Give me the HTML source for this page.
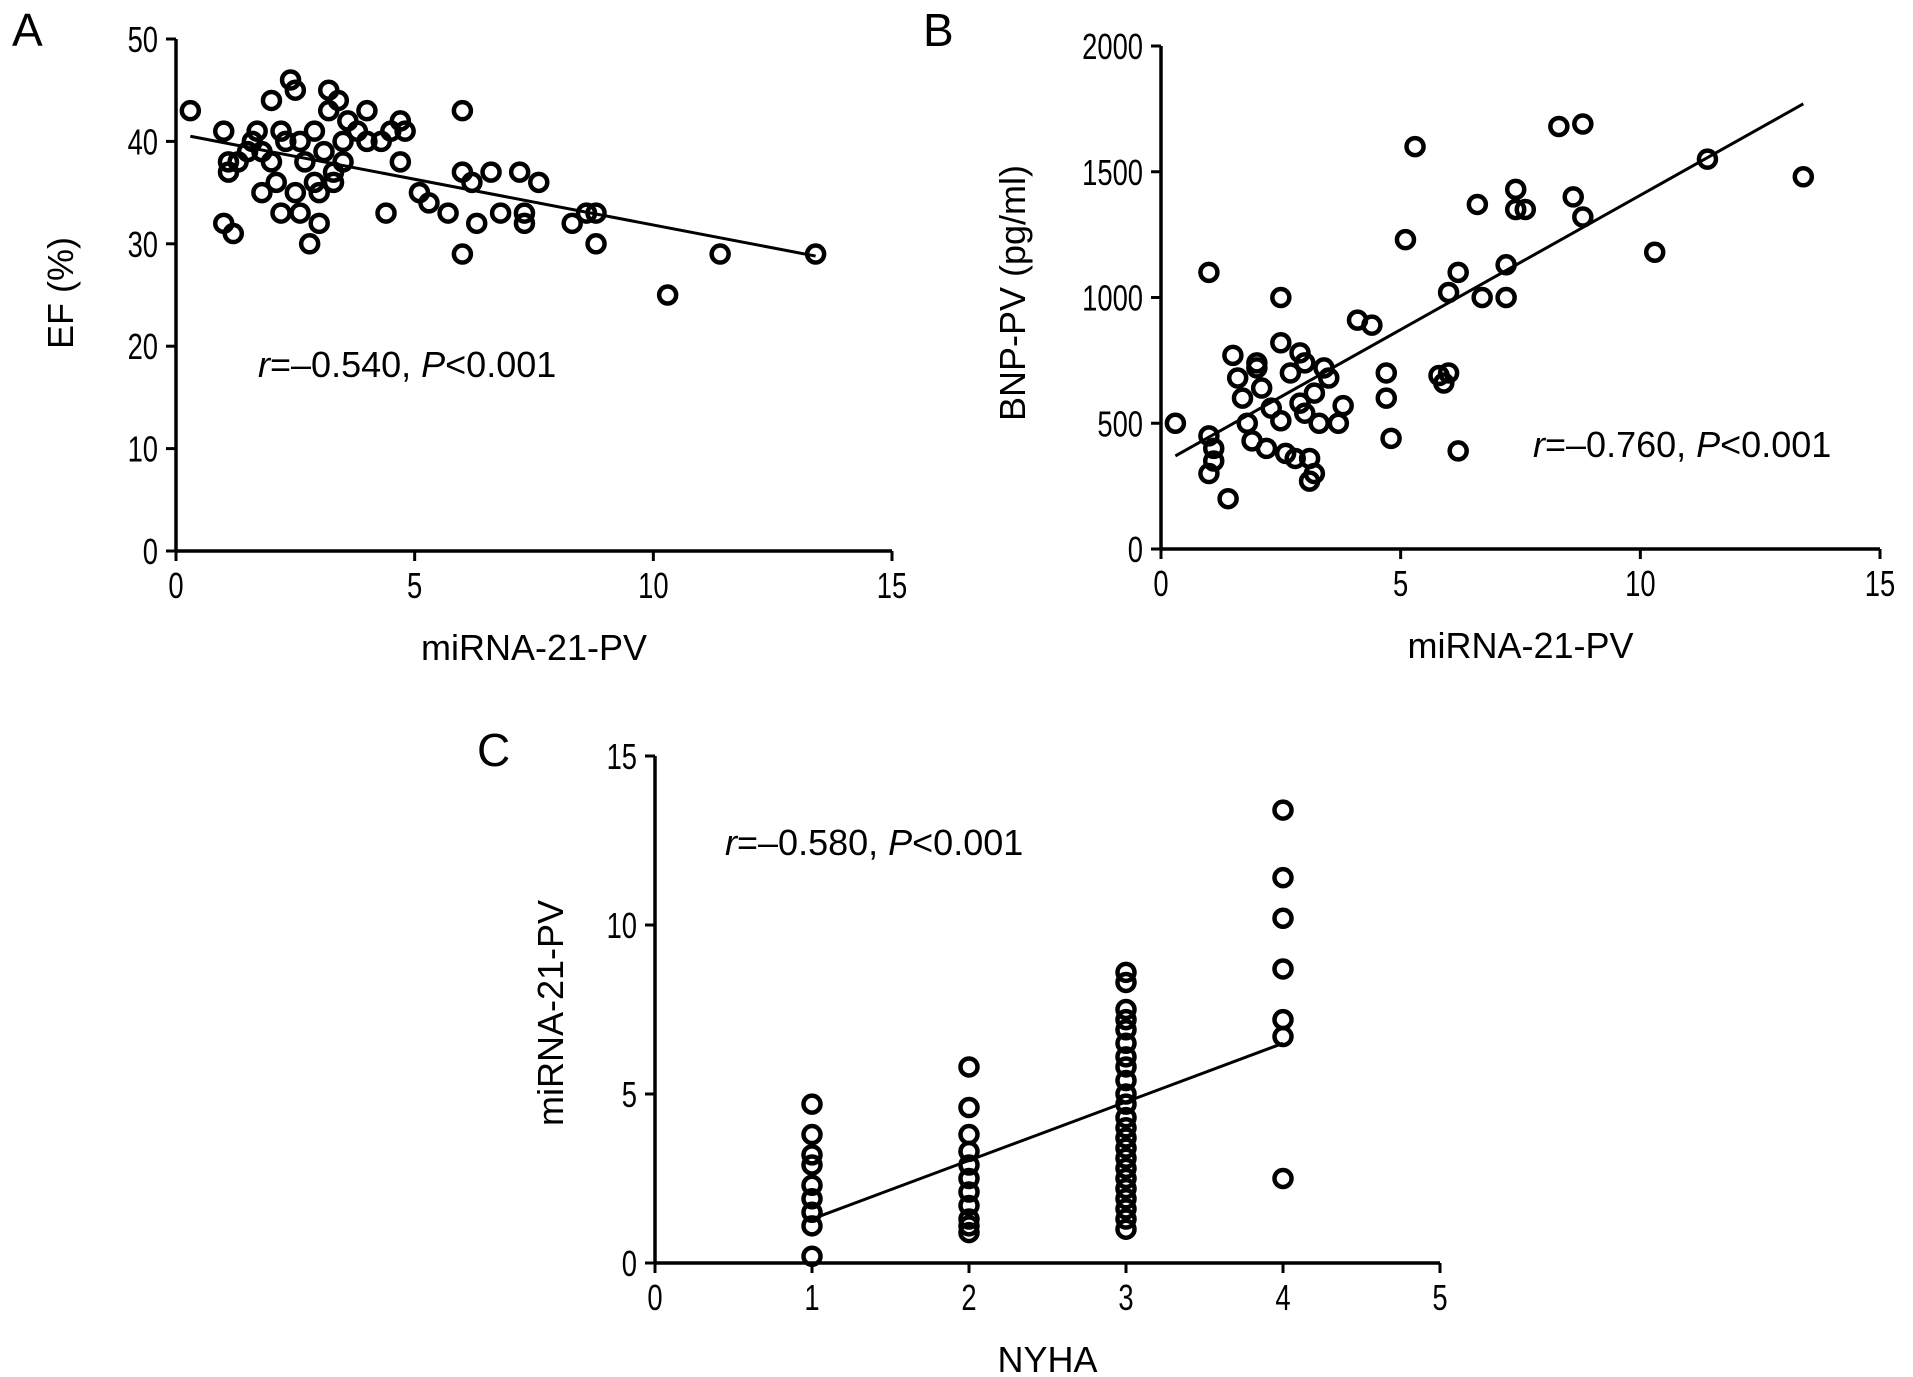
<!DOCTYPE html>
<html><head><meta charset="utf-8"><style>
html,body{margin:0;padding:0;background:#fff;}
svg{display:block;font-family:"Liberation Sans",Arial,sans-serif;}
</style></head><body>
<svg id="fig" width="1913" height="1377" viewBox="0 0 1913 1377" xmlns="http://www.w3.org/2000/svg">
<rect width="1913" height="1377" fill="#fff"/>
</svg>
<script>
// Panel A data
const aX = [0.3,1,1.1,1.1,1,1.2,1.3,1.6,1.7,1.8,1.8,2,2,2.1,2.2,2.2,2.4,2.5,2.5,2.6,2.6,2.7,2.8,2.9,3,3,3.1,3.2,3.2,3.3,3.3,3.4,3.5,3.6,3.8,4,4,4.3,4.4,4.5,4.7,4.8,4.7,5.1,5.3,5.7,6,6,6,6.2,6.3,6.6,6.8,7.2,7.3,7.3,7.6,8.3,8.6,8.8,8.8,10.3,11.4,13.4,1.5,2.3,3.5,2.9];
const aY = [43,41,38,37,32,31,38,40,41,39,35,44,38,36,33,41,46,45,35,33,40,38,30,41,32,35,39,43,45,37,36,44,40,42,41,43,40,40,33,41,42,41,38,35,34,33,43,37,29,36,32,37,33,37,33,32,36,32,33,33,30,25,29,29,39,40,38,36];
const aFit = [[0.3,40.5],[13.4,28.8]];
const aXTicks = [0,5,10,15];
const aYTicks = [0,10,20,30,40,50];
// Panel B data
const bX = [0.3,1,1,1,1.1,1.1,1.4,1.5,1.6,1.7,1.8,1.9,2,2,2.1,2.2,2.3,2.5,2.5,2.5,2.6,2.8,2.7,2.9,2.9,3,3,3.1,3.2,3.1,3.2,3.3,3.4,3.5,3.7,3.8,4.1,4.4,4.7,4.7,4.8,5.1,5.3,5.8,6,5.9,6,6.2,6.2,6.6,6.7,7.2,7.2,7.4,7.4,7.6,8.3,8.6,8.8,8.8,10.3,11.4,13.4];
const bY = [500,1100,450,300,400,350,200,770,680,600,500,430,740,720,640,400,560,510,1000,820,380,360,700,780,580,740,540,360,300,270,620,500,720,680,500,570,910,890,700,600,440,1230,1600,690,700,660,1020,1100,390,1370,1000,1000,1130,1430,1350,1350,1680,1400,1690,1320,1180,1550,1480];
const bFit = [[0.3,370],[13.4,1770]];
const bXTicks = [0,5,10,15];
const bYTicks = [0,500,1000,1500,2000];
// Panel C data
const c1 = [0.2,1.1,1.5,1.9,2.3,2.9,3.2,3.8,4.7];
const c2 = [0.9,1.1,1.3,1.7,2.1,2.5,2.9,3.3,3.8,4.6,5.8];
const c3 = [1.0,1.3,1.6,1.9,2.2,2.5,2.8,3.1,3.4,3.7,4.0,4.3,4.7,5.0,5.4,5.8,6.1,6.5,6.9,7.2,7.5,8.3,8.6];
const c4 = [2.5,6.7,7.2,8.7,10.2,11.4,13.4];
const cFit = [[1,1.3],[4,6.5]];
const cXTicks = [0,1,2,3,4,5];
const cYTicks = [0,5,10,15];

const NS="http://www.w3.org/2000/svg";
const svg=document.getElementById('fig');
function mk(tag,attrs,parent,text){const e=document.createElementNS(NS,tag);for(const k in attrs)e.setAttribute(k,attrs[k]);if(text!==undefined)e.textContent=text;(parent||svg).appendChild(e);return e;}

function panel(cfg){
  const g=mk('g',{});
  
  
  const sx=v=>cfg.x0+(v-cfg.xmin)/(cfg.xmax-cfg.xmin)*(cfg.x1-cfg.x0);
  const sy=v=>cfg.y0-(v-cfg.ymin)/(cfg.ymax-cfg.ymin)*(cfg.y0-cfg.y1);
  const ya=mk('line',{x1:cfg.x0,y1:cfg.y0+1.5,x2:cfg.x0,y2:cfg.y1,stroke:'#000','stroke-width':3.5},g);
  
  
  const xa=mk('line',{x1:cfg.x0-1.5,y1:cfg.y0,x2:cfg.x1,y2:cfg.y0,stroke:'#000','stroke-width':3.5},g);
  
  
  cfg.xt.forEach(t=>{
    const x=sx(t);
    const l=mk('line',{x1:x,y1:cfg.y0,x2:x,y2:cfg.y0+10,stroke:'#000','stroke-width':3},g);
    
    
    const tx=mk('text',{x:0,y:0,'text-anchor':'middle','font-size':36,transform:`translate(${x},${cfg.y0+47}) scale(0.76,1)`},g,String(t));
    
    
  });
  cfg.yt.forEach(t=>{
    const y=sy(t);
    const l=mk('line',{x1:cfg.x0-10,y1:y,x2:cfg.x0,y2:y,stroke:'#000','stroke-width':3},g);
    
    
    const tx=mk('text',{x:0,y:0,'text-anchor':'end','font-size':36,transform:`translate(${cfg.x0-18},${y+13}) scale(0.76,1)`},g,String(t));
    
    
  });
  const f=mk('line',{x1:sx(cfg.fit[0][0]),y1:sy(cfg.fit[0][1]),x2:sx(cfg.fit[1][0]),y2:sy(cfg.fit[1][1]),stroke:'#000','stroke-width':3},g);
  
  
  cfg.xs.forEach((xv,i)=>{
    const c=mk('circle',{cx:sx(xv),cy:sy(cfg.ys[i]),r:8.5,fill:'none',stroke:'#000','stroke-width':4.5},g);
    
    
  });
  const pl=mk('text',{x:cfg.lab[0],y:cfg.lab[1],'font-size':46},g,cfg.letter);
  
  
  const xl=mk('text',{x:(cfg.x0+cfg.x1)/2,y:cfg.y0+109,'text-anchor':'middle','font-size':36},g,cfg.xlabel);
  
  
  const yl=mk('text',{x:0,y:0,'text-anchor':'middle','font-size':36,transform:`translate(${cfg.ylx},${cfg.yly}) rotate(-90)`},g,cfg.ylabel);
  
  
  const an=mk('text',{x:cfg.ann[0],y:cfg.ann[1],'font-size':36},g);
  
  
  mk('tspan',{'font-style':'italic'},an,'r');
  mk('tspan',{},an,'=\u2013'+cfg.r+', ');
  mk('tspan',{'font-style':'italic'},an,'P');
  mk('tspan',{},an,'<0.001');
}

panel({name:'panel-a',letter:'A',lab:[12,46],x0:176,x1:892,y0:551,y1:39,xmin:0,xmax:15,ymin:0,ymax:50,xt:aXTicks,yt:aYTicks,xs:aX,ys:aY,fit:aFit,xlabel:'miRNA-21-PV',ylabel:'EF (%)',ylx:73,yly:293,ann:[258,377],r:'0.540'});
panel({name:'panel-b',letter:'B',lab:[923,46],x0:1161,x1:1880,y0:549,y1:46,xmin:0,xmax:15,ymin:0,ymax:2000,xt:bXTicks,yt:bYTicks,xs:bX,ys:bY,fit:bFit,xlabel:'miRNA-21-PV',ylabel:'BNP-PV (pg/ml)',ylx:1025,yly:293,ann:[1533,457],r:'0.760'});
const cX=[].concat(c1.map(()=>1),c2.map(()=>2),c3.map(()=>3),c4.map(()=>4));
const cY=[].concat(c1,c2,c3,c4);
panel({name:'panel-c',letter:'C',lab:[477,766],x0:655,x1:1440,y0:1263,y1:756,xmin:0,xmax:5,ymin:0,ymax:15,xt:cXTicks,yt:cYTicks,xs:cX,ys:cY,fit:cFit,xlabel:'NYHA',ylabel:'miRNA-21-PV',ylx:563,yly:1013,ann:[725,855],r:'0.580'});
</script>
</body></html>
